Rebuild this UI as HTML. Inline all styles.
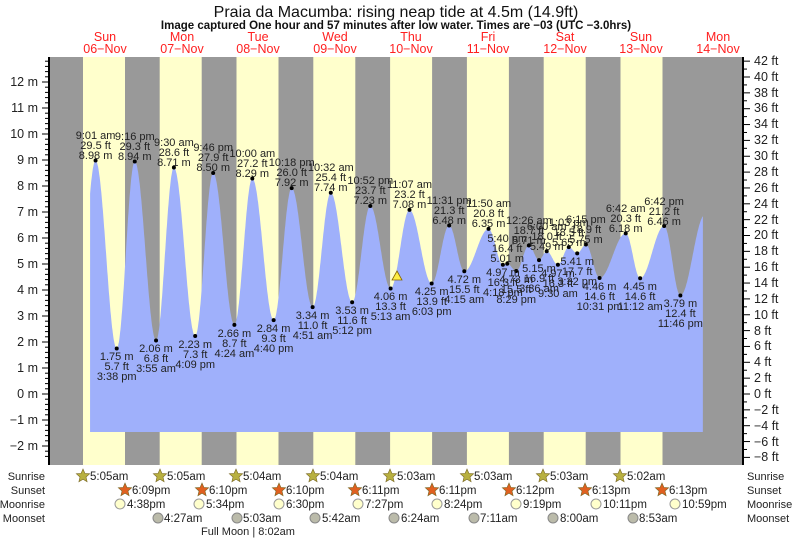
<!DOCTYPE html>
<html><head><meta charset="utf-8"><style>
body{margin:0;background:#fff;}
svg{display:block;font-family:"Liberation Sans",Arial,sans-serif;}
.l text{font-size:11px;fill:#222;text-anchor:middle;}
.ax{font-size:12.5px;fill:#222;}
.dl{font-size:12.5px;fill:#ff2020;text-anchor:middle;}
.r{font-size:11px;fill:#222;}
</style></head><body>
<svg id="s" width="793" height="539" viewBox="0 0 793 539" style="position:absolute;left:0;top:0">
<rect x="0" y="0" width="793" height="539" fill="#fff"/>
<text x="396" y="17" font-size="16" text-anchor="middle" fill="#111">Praia da Macumba: rising  neap tide at 4.5m (14.9ft)</text>
<text x="396" y="29" font-size="11.5" font-weight="bold" text-anchor="middle" fill="#111">Image captured One hour and 57 minutes after low water. Times are −03 (UTC −3.0hrs)</text>
<g class="dl">
<text x="105" y="41">Sun</text><text x="105" y="53">06−Nov</text>
<text x="182" y="41">Mon</text><text x="182" y="53">07−Nov</text>
<text x="258" y="41">Tue</text><text x="258" y="53">08−Nov</text>
<text x="335" y="41">Wed</text><text x="335" y="53">09−Nov</text>
<text x="411" y="41">Thu</text><text x="411" y="53">10−Nov</text>
<text x="488" y="41">Fri</text><text x="488" y="53">11−Nov</text>
<text x="565" y="41">Sat</text><text x="565" y="53">12−Nov</text>
<text x="641" y="41">Sun</text><text x="641" y="53">13−Nov</text>
<text x="718" y="41">Mon</text><text x="718" y="53">14−Nov</text>
</g>
<rect x="49" y="57" width="694" height="408" fill="#999"/>
<g fill="#ffffcc">
<rect x="83" y="57" width="42" height="408"/><rect x="159.7" y="57" width="42" height="408"/>
<rect x="236.5" y="57" width="42" height="408"/><rect x="313.3" y="57" width="42" height="408"/>
<rect x="390.1" y="57" width="42" height="408"/><rect x="466.9" y="57" width="42" height="408"/>
<rect x="543.7" y="57" width="42" height="408"/><rect x="620.5" y="57" width="42" height="408"/>
</g>
<path id="tide" fill="#9fb0fb" d=""/>
<g id="ticks" stroke="#000" fill="none"></g>
<line x1="49" y1="57" x2="49" y2="465" stroke="#000" stroke-width="2"/>
<line x1="743" y1="57" x2="743" y2="465" stroke="#000" stroke-width="2"/>
<g class="ax" text-anchor="end">
<text x="38" y="86">12 m</text><text x="38" y="112">11 m</text><text x="38" y="138">10 m</text>
<text x="38" y="164">9 m</text><text x="38" y="190">8 m</text><text x="38" y="216">7 m</text>
<text x="38" y="242">6 m</text><text x="38" y="268">5 m</text><text x="38" y="294">4 m</text>
<text x="38" y="320">3 m</text><text x="38" y="346">2 m</text><text x="38" y="372">1 m</text>
<text x="38" y="398">0 m</text><text x="38" y="424">−1 m</text><text x="38" y="450">−2 m</text>
</g>
<g class="ax">
<text x="754" y="65">42 ft</text><text x="754" y="81">40 ft</text><text x="754" y="97">38 ft</text><text x="754" y="112">36 ft</text>
<text x="754" y="128">34 ft</text><text x="754" y="144">32 ft</text><text x="754" y="160">30 ft</text><text x="754" y="176">28 ft</text>
<text x="754" y="192">26 ft</text><text x="754" y="208">24 ft</text><text x="754" y="224">22 ft</text><text x="754" y="239">20 ft</text>
<text x="754" y="255">18 ft</text><text x="754" y="271">16 ft</text><text x="754" y="287">14 ft</text><text x="754" y="303">12 ft</text>
<text x="754" y="319">10 ft</text><text x="754" y="335">8 ft</text><text x="754" y="350">6 ft</text><text x="754" y="366">4 ft</text>
<text x="754" y="382">2 ft</text><text x="754" y="398">0 ft</text><text x="754" y="414">−2 ft</text><text x="754" y="430">−4 ft</text>
<text x="754" y="446">−6 ft</text><text x="754" y="461">−8 ft</text>
</g>
<polygon points="397,271 392,280 402,280" fill="#ffee44" stroke="#886600" stroke-width="0.8"/>
<g id="dots" fill="#000"></g>
<g class="l">
<text x="95.6" y="139">9:01 am</text><text x="95.6" y="149">29.5 ft</text><text x="95.6" y="159">8.98 m</text>
<text x="116.7" y="360">1.75 m</text><text x="116.7" y="370">5.7 ft</text><text x="116.7" y="380">3:38 pm</text>
<text x="134.8" y="140">9:16 pm</text><text x="134.8" y="150">29.3 ft</text><text x="134.8" y="160">8.94 m</text>
<text x="156" y="352">2.06 m</text><text x="156" y="362">6.8 ft</text><text x="156" y="372">3:55 am</text>
<text x="173.9" y="146">9:30 am</text><text x="173.9" y="156">28.6 ft</text><text x="173.9" y="166">8.71 m</text>
<text x="195.2" y="348">2.23 m</text><text x="195.2" y="358">7.3 ft</text><text x="195.2" y="368">4:09 pm</text>
<text x="213.2" y="151">9:46 pm</text><text x="213.2" y="161">27.9 ft</text><text x="213.2" y="171">8.50 m</text>
<text x="234.4" y="337">2.66 m</text><text x="234.4" y="347">8.7 ft</text><text x="234.4" y="357">4:24 am</text>
<text x="252.3" y="157">10:00 am</text><text x="252.3" y="167">27.2 ft</text><text x="252.3" y="177">8.29 m</text>
<text x="273.6" y="332">2.84 m</text><text x="273.6" y="342">9.3 ft</text><text x="273.6" y="352">4:40 pm</text>
<text x="291.7" y="166">10:18 pm</text><text x="291.7" y="176">26.0 ft</text><text x="291.7" y="186">7.92 m</text>
<text x="312.6" y="319">3.34 m</text><text x="312.6" y="329">11.0 ft</text><text x="312.6" y="339">4:51 am</text>
<text x="330.8" y="171">10:32 am</text><text x="330.8" y="181">25.4 ft</text><text x="330.8" y="191">7.74 m</text>
<text x="352.1" y="314">3.53 m</text><text x="352.1" y="324">11.6 ft</text><text x="352.1" y="334">5:12 pm</text>
<text x="370.3" y="184">10:52 pm</text><text x="370.3" y="194">23.7 ft</text><text x="370.3" y="204">7.23 m</text>
<text x="390.6" y="300">4.06 m</text><text x="390.6" y="310">13.3 ft</text><text x="390.6" y="320">5:13 am</text>
<text x="409.5" y="188">11:07 am</text><text x="409.5" y="198">23.2 ft</text><text x="409.5" y="208">7.08 m</text>
<text x="431.7" y="295">4.25 m</text><text x="431.7" y="305">13.9 ft</text><text x="431.7" y="315">6:03 pm</text>
<text x="449.2" y="204">11:31 pm</text><text x="449.2" y="214">21.3 ft</text><text x="449.2" y="224">6.48 m</text>
<text x="464.3" y="283">4.72 m</text><text x="464.3" y="293">15.5 ft</text><text x="464.3" y="303">4:15 am</text>
<text x="488.6" y="207">11:50 am</text><text x="488.6" y="217">20.8 ft</text><text x="488.6" y="227">6.35 m</text>
<text x="502.9" y="276">4.97 m</text><text x="502.9" y="286">16.3 ft</text><text x="502.9" y="296">4:18 pm</text>
<text x="507.2" y="242">5:40 pm</text><text x="507.2" y="252">16.4 ft</text><text x="507.2" y="262">5.01 m</text>
<text x="516.2" y="283">4.73 m</text><text x="516.2" y="293">15.5 ft</text><text x="516.2" y="303">8:29 pm</text>
<text x="528.9" y="224">12:26 am</text><text x="528.9" y="234">18.7 ft</text><text x="528.9" y="244">5.71 m</text>
<text x="539" y="272">5.15 m</text><text x="539" y="282">16.9 ft</text><text x="539" y="292">3:36 am</text>
<text x="546.7" y="230">6:00 am</text><text x="546.7" y="240">18.0 ft</text><text x="546.7" y="250">5.49 m</text>
<text x="557.9" y="277">4.97 m</text><text x="557.9" y="287">16.3 ft</text><text x="557.9" y="297">9:30 am</text>
<text x="568.8" y="226">1:03 pm</text><text x="568.8" y="236">18.5 ft</text><text x="568.8" y="246">5.65 m</text>
<text x="577.2" y="265">5.41 m</text><text x="577.2" y="275">17.7 ft</text><text x="577.2" y="285">3:32 pm</text>
<text x="585.9" y="223">6:15 pm</text><text x="585.9" y="233">18.9 ft</text><text x="585.9" y="243">5.75 m</text>
<text x="599.6" y="290">4.46 m</text><text x="599.6" y="300">14.6 ft</text><text x="599.6" y="310">10:31 pm</text>
<text x="625.7" y="212">6:42 am</text><text x="625.7" y="222">20.3 ft</text><text x="625.7" y="232">6.18 m</text>
<text x="640.1" y="290">4.45 m</text><text x="640.1" y="300">14.6 ft</text><text x="640.1" y="310">11:12 am</text>
<text x="664.1" y="205">6:42 pm</text><text x="664.1" y="215">21.2 ft</text><text x="664.1" y="225">6.46 m</text>
<text x="680.4" y="307">3.79 m</text><text x="680.4" y="317">12.4 ft</text><text x="680.4" y="327">11:46 pm</text>
</g>
<g class="r" text-anchor="end">
<text x="45" y="480">Sunrise</text><text x="45" y="494">Sunset</text>
<text x="45" y="508">Moonrise</text><text x="45" y="522">Moonset</text>
</g>
<g class="r">
<text x="747" y="480">Sunrise</text><text x="747" y="494">Sunset</text>
<text x="747" y="508">Moonrise</text><text x="747" y="522">Moonset</text>
</g>
<g id="icons"></g>
<g font-size="11.5" fill="#222">
<text x="90" y="480">5:05am</text><text x="167" y="480">5:05am</text><text x="243" y="480">5:04am</text><text x="320" y="480">5:04am</text>
<text x="397" y="480">5:03am</text><text x="474" y="480">5:03am</text><text x="550" y="480">5:03am</text><text x="627" y="480">5:02am</text>
<text x="132" y="494">6:09pm</text><text x="209" y="494">6:10pm</text><text x="286" y="494">6:10pm</text><text x="362" y="494">6:11pm</text>
<text x="439" y="494">6:11pm</text><text x="516" y="494">6:12pm</text><text x="592" y="494">6:13pm</text><text x="669" y="494">6:13pm</text>
<text x="127" y="508">4:38pm</text><text x="206" y="508">5:34pm</text><text x="286" y="508">6:30pm</text><text x="365" y="508">7:27pm</text>
<text x="444" y="508">8:24pm</text><text x="523" y="508">9:19pm</text><text x="603" y="508">10:11pm</text><text x="682" y="508">10:59pm</text>
<text x="164" y="522">4:27am</text><text x="243" y="522">5:03am</text><text x="322" y="522">5:42am</text><text x="401" y="522">6:24am</text>
<text x="480" y="522">7:11am</text><text x="560" y="522">8:00am</text><text x="639" y="522">8:53am</text>
<text x="201" y="535" font-size="11">Full Moon | 8:02am</text>
</g>
</svg>
<script>
var X=function(t){return 66.7+3.2*t},Y=function(m){return 394-26*m};
var E=[[2.9,2.0],[9.02,8.98],[15.63,1.75],[21.27,8.94],[27.92,2.06],[33.5,8.71],[40.15,2.23],[45.77,8.50],[52.4,2.66],[58,8.29],[64.67,2.84],[70.3,7.92],[76.85,3.34],[82.53,7.74],[89.2,3.53],[94.87,7.23],[101.22,4.06],[107.12,7.08],[114.05,4.25],[119.52,6.48],[124.25,4.72],[131.83,6.35],[136.3,4.97],[137.67,5.01],[140.48,4.73],[144.43,5.71],[147.6,5.15],[150,5.49],[153.5,4.97],[156.9,5.65],[159.53,5.41],[162.25,5.75],[166.52,4.46],[174.7,6.18],[179.2,4.45],[186.7,6.46],[191.77,3.79],[199.5,6.9]];
function val(t){for(var i=0;i<E.length-1;i++){if(t>=E[i][0]&&t<=E[i+1][0]){var f=(t-E[i][0])/(E[i+1][0]-E[i][0]);return E[i][1]+(E[i+1][1]-E[i][1])*(1-Math.cos(Math.PI*f))/2;}}return 0;}
var t0=7.3,t1=198.8,d="M"+X(t0)+",432";
for(var t=t0;t<=t1;t+=0.1){d+="L"+X(t).toFixed(1)+","+Y(val(t)).toFixed(1);}
d+="L"+X(t1)+",432Z";document.getElementById("tide").setAttribute("d",d);
var ns="http://www.w3.org/2000/svg";
function el(p,n,a){var e=document.createElementNS(ns,n);for(var k in a)e.setAttribute(k,a[k]);p.appendChild(e);return e;}
var tk=document.getElementById("ticks");
for(var m=-2.4;m<=12.8;m+=0.2){var y=Y(m),maj=Math.abs(m-Math.round(m))<0.01;el(tk,"line",{x1:maj?42:45,y1:y,x2:49,y2:y});}
for(var f=-9;f<=43;f+=1){var y=394-7.925*f;if(y<57||y>465)continue;var maj=f%2==0;el(tk,"line",{x1:743,y1:y,x2:maj?750:747,y2:y});}
var dg=document.getElementById("dots");
for(var i=1;i<E.length-1;i++)el(dg,"circle",{cx:X(E[i][0]),cy:Y(E[i][1]),r:2});
var ic=document.getElementById("icons");
function star(cx,cy,c){var p="";for(var k=0;k<10;k++){var r=k%2?3.2:7,a=-Math.PI/2+k*Math.PI/5;p+=(cx+r*Math.cos(a)).toFixed(1)+","+(cy+r*Math.sin(a)).toFixed(1)+" ";}el(ic,"polygon",{points:p,fill:c,stroke:"#776622","stroke-width":0.6});}
[83,160,236,313,390,467,543,620].forEach(function(x){star(x,476,"#b8b040");});
[125,202,279,355,432,509,585,662].forEach(function(x){star(x,490,"#e06020");});
[120,199,279,358,437,516,596,675].forEach(function(x){el(ic,"circle",{cx:x,cy:504,r:5,fill:"#ffffcc",stroke:"#999"});});
[158,237,315,394,474,553,633].forEach(function(x){el(ic,"circle",{cx:x,cy:518,r:5,fill:"#bbbbaa",stroke:"#888"});});
</script>
</body></html>
